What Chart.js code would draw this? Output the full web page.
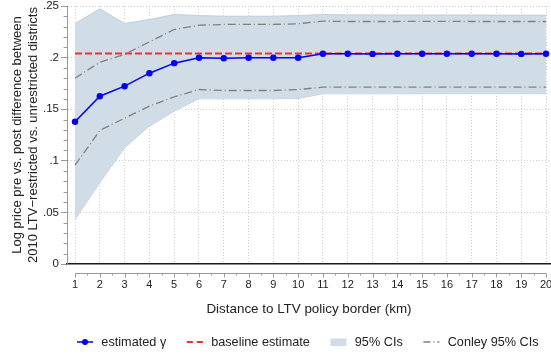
<!DOCTYPE html>
<html><head><meta charset="utf-8">
<script src="https://cdn.jsdelivr.net/npm/chart.js@4.4.0/dist/chart.umd.min.js"></script>
<style>html,body{margin:0;padding:0;background:#fff;overflow:hidden}#wrap{width:551px;height:356px;position:relative}</style>
</head><body><div id="wrap"><canvas id="c" width="551" height="356"></canvas></div>
<script>
// ---- data ----
const distances = [1,2,3,4,5,6,7,8,9,10,11,12,13,14,15,16,17,18,19,20];
const gamma = [0.1378,0.1626,0.1723,0.1849,0.1946,0.1998,0.1994,0.1998,0.1998,0.1998,0.2037,0.2037,0.2036,0.2037,0.2037,0.2038,0.2037,0.2037,0.2036,0.2037];
const baselineEstimate = 0.2040;
const ciUpper = [0.2330,0.2473,0.2330,0.2369,0.2418,0.2408,0.2401,0.2401,0.2401,0.2408,0.2418,0.2414,0.2414,0.2413,0.2413,0.2413,0.2413,0.2412,0.2412,0.2412];
const ciLower = [0.0431,0.0787,0.1126,0.1335,0.1481,0.1601,0.1601,0.1601,0.1601,0.1604,0.1649,0.1649,0.1649,0.1649,0.1650,0.1650,0.1650,0.1650,0.1650,0.1651];
const conleyUpper = [0.1800,0.1955,0.2030,0.2153,0.2272,0.2314,0.2321,0.2321,0.2321,0.2328,0.2353,0.2350,0.2350,0.2350,0.2351,0.2351,0.2350,0.2350,0.2350,0.2350];
const conleyLower = [0.0957,0.1294,0.1413,0.1529,0.1620,0.1691,0.1681,0.1681,0.1681,0.1691,0.1713,0.1713,0.1713,0.1713,0.1714,0.1714,0.1713,0.1713,0.1713,0.1713];
const yTickValues = [0, 0.05, 0.10, 0.15, 0.20, 0.25];
const legendLabels = ['estimated \u03b3', 'baseline estimate', '95% CIs', 'Conley 95% CIs'];
const xTitle = 'Distance to LTV policy border (km)';
const yTitle = ['Log price pre vs. post difference between', '2010 LTV\u2212restricted vs. unrestricted districts'];

// ---- styles ----
const FONT = "'Liberation Sans', Arial, Helvetica, sans-serif";
const BAND = 'rgb(208,220,230)';
const BAND_EDGE = 'rgb(192,207,220)';
const BLUE = '#0000ff';
const RED = '#ff2a2a';
const GRAY = '#808080';
const CONLEY_DASH = [8,3,1,3];
const RED_DASH = [7,3];
const LEGEND_GAP = '   ';
Chart.defaults.font.family = FONT;
Chart.defaults.color = '#222';

const pts = arr => distances.map((d, i) => ({x: d, y: arr[i]}));

// legend symbol images: 28px wide box, 16px symbol drawn from x=10
function sym(draw) {
  const c = document.createElement('canvas');
  c.width = 28; c.height = 10;
  const g = c.getContext('2d');
  g.translate(10, 0);
  draw(g);
  return c;
}
const symEstimate = sym(g => {
  g.strokeStyle = BLUE; g.lineWidth = 1.5;
  g.beginPath(); g.moveTo(0, 5); g.lineTo(16, 5); g.stroke();
  g.fillStyle = BLUE; g.beginPath(); g.arc(8, 5, 3, 0, Math.PI * 2); g.fill();
});
const symBaseline = sym(g => {
  g.strokeStyle = RED; g.lineWidth = 2; g.setLineDash([6, 4]);
  g.beginPath(); g.moveTo(0, 5); g.lineTo(16, 5); g.stroke();
});
const symBand = sym(g => {
  g.fillStyle = BAND; g.fillRect(0, 1.5, 16, 7.5);
});
const symConley = sym(g => {
  g.strokeStyle = GRAY; g.lineWidth = 1.3; g.setLineDash([7, 3, 1, 3]);
  g.beginPath(); g.moveTo(0, 5); g.lineTo(16, 5); g.stroke();
});
const legendSymbols = [symEstimate, symBaseline, symBand, symConley];

const extras = {
  id: 'extras',
  afterDraw(chart) {
    const {ctx, chartArea, scales: {x, y}} = chart;
    ctx.save();
    ctx.strokeStyle = '#9a9a9a';
    ctx.lineWidth = 1;
    // y minor ticks
    for (let k = 1; k < 25; k++) {
      if (k % 5 === 0) continue;
      const py = Math.round(y.getPixelForValue(k / 100)) + 0.5;
      ctx.beginPath(); ctx.moveTo(chartArea.left - 3.5, py); ctx.lineTo(chartArea.left, py); ctx.stroke();
    }
    // offset x axis line with ticks
    const ay = Math.round(chartArea.bottom + 9) + 0.5;
    const xa = x.getPixelForValue(distances[0]);
    const xb = x.getPixelForValue(distances[distances.length - 1]);
    ctx.beginPath(); ctx.moveTo(xa, ay); ctx.lineTo(xb, ay); ctx.stroke();
    distances.forEach((d, i) => {
      const px = Math.round(x.getPixelForValue(d)) + 0.5;
      ctx.beginPath(); ctx.moveTo(px, ay); ctx.lineTo(px, ay + 4); ctx.stroke();
      if (i < distances.length - 1) {
        const pm = Math.round(x.getPixelForValue((d + distances[i + 1]) / 2)) + 0.5;
        ctx.beginPath(); ctx.moveTo(pm, ay); ctx.lineTo(pm, ay + 2); ctx.stroke();
      }
    });
    ctx.restore();
  }
};

new Chart(document.getElementById('c'), {
  type: 'line',
  data: {
    datasets: [
      {label: legendLabels[2], data: pts(ciUpper), fill: '+1', backgroundColor: BAND, borderColor: BAND_EDGE, borderWidth: 1, pointRadius: 0, tension: 0, order: 10},
      {label: legendLabels[2] + ' lower', data: pts(ciLower), fill: false, borderColor: BAND_EDGE, borderWidth: 1, pointRadius: 0, tension: 0, order: 10},
      {label: legendLabels[3], data: pts(conleyUpper), fill: false, borderColor: GRAY, borderWidth: 1.3, borderDash: CONLEY_DASH, pointRadius: 0, tension: 0, order: 5},
      {label: legendLabels[3] + ' lower', data: pts(conleyLower), fill: false, borderColor: GRAY, borderWidth: 1.3, borderDash: CONLEY_DASH, pointRadius: 0, tension: 0, order: 5},
      {label: legendLabels[1], data: [{x: distances[0], y: baselineEstimate}, {x: distances[distances.length - 1], y: baselineEstimate}], fill: false, borderColor: RED, borderWidth: 2, borderDash: RED_DASH, pointRadius: 0, order: 3},
      {label: legendLabels[0], data: pts(gamma), fill: false, borderColor: BLUE, backgroundColor: BLUE, borderWidth: 1.5, pointRadius: 3.2, pointBackgroundColor: BLUE, pointBorderWidth: 0, tension: 0, order: 1}
    ]
  },
  options: {
    responsive: false,
    animation: false,
    devicePixelRatio: 1,
    layout: {autoPadding: false, padding: {top: 6, right: 0, bottom: -2.35, left: 0}},
    plugins: {
      tooltip: {enabled: false},
      legend: {
        position: 'bottom',
        fullSize: false,
        align: 'start',
        labels: {
          usePointStyle: true,
          pointStyleWidth: 28,
          padding: 0,
          color: '#222',
          font: {size: 12.7},
          generateLabels: () => legendLabels.map((t, i) => ({
            text: i < legendLabels.length - 1 ? t + LEGEND_GAP : t,
            pointStyle: legendSymbols[i], hidden: false, lineWidth: 0,
            strokeStyle: 'rgba(0,0,0,0)', fillStyle: 'rgba(0,0,0,0)', fontColor: '#222', datasetIndex: i
          }))
        }
      }
    },
    scales: {
      x: {
        type: 'linear',
        min: 0.677,
        max: 20.2,
        afterBuildTicks: s => { s.ticks = distances.map(v => ({value: v})); },
        afterFit: s => { s.paddingLeft = 0; s.paddingRight = 0; s.height = 71.65; },
        ticks: {autoSkip: false, maxRotation: 0, padding: 14, color: '#222', font: {size: 11}, callback: v => String(v)},
        grid: {drawTicks: false, color: '#cfcfcf', lineWidth: 1},
        border: {display: true, color: '#1a1a1a', width: 1.6, dash: [1, 2]},
        title: {display: true, text: xTitle, color: '#222', font: {size: 13.4}, padding: {top: 10, bottom: 18.4}}
      },
      y: {
        min: 0,
        max: 0.25,
        afterBuildTicks: s => { s.ticks = yTickValues.map(v => ({value: v})); },
        afterFit: s => { s.width = 67; s.paddingTop = 0; s.paddingBottom = 0; },
        ticks: {padding: 2, color: '#222', font: {size: 11.5},
          callback: v => v === 0 ? '0' : (+v.toFixed(2)).toString().replace(/^0/, '')},
        grid: {drawTicks: true, tickLength: 6, tickColor: '#9a9a9a', tickWidth: 1,
          color: c => (c.tick && c.tick.value === 0) ? 'rgba(0,0,0,0)' : '#cfcfcf', lineWidth: 1},
        border: {display: true, color: '#9a9a9a', width: 1, dash: [1, 2]},
        title: {display: true, text: yTitle, color: '#222', font: {size: 13, lineHeight: '16px'}, padding: {top: 9, bottom: 0}}
      }
    }
  },
  plugins: [extras]
});
</script>
</body></html>
